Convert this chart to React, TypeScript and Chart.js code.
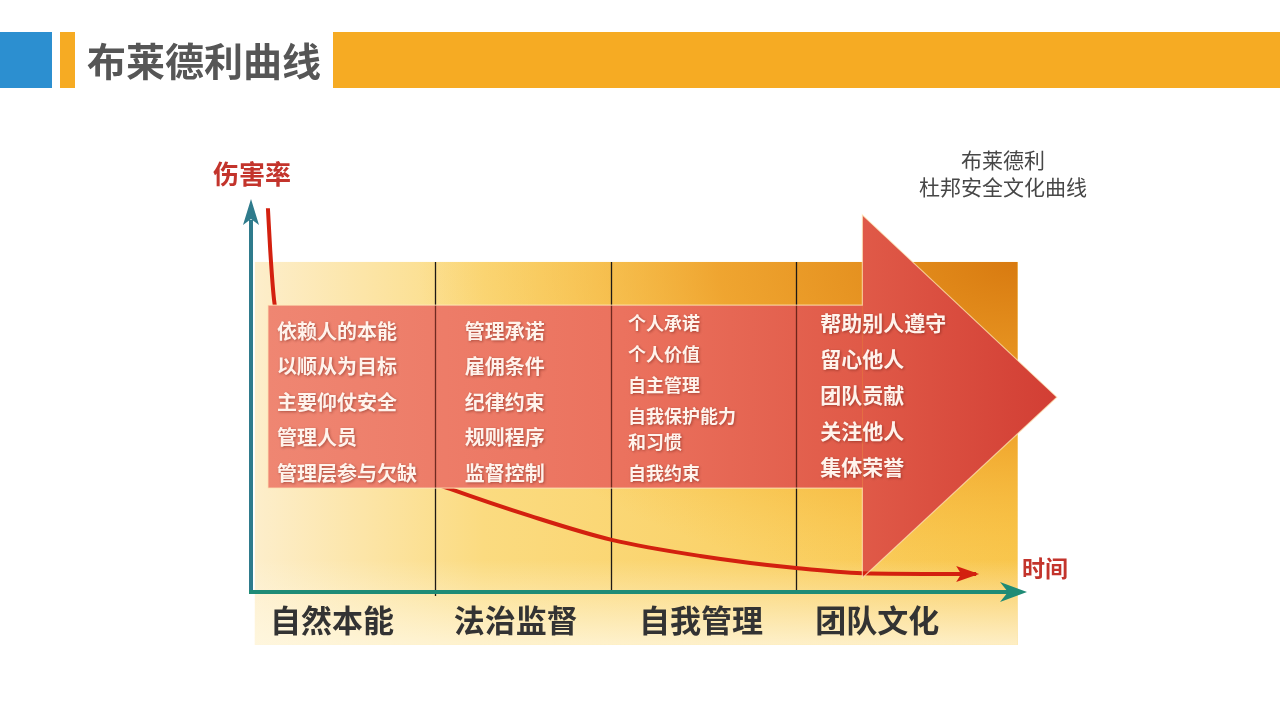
import React, { useEffect, useRef } from "react";
import { Chart, registerables } from "chart.js";

Chart.register(...registerables);

// ---------- data ----------
const TITLE = "布莱德利曲线";
const Y_LABEL = "伤害率";
const X_LABEL = "时间";
const CAPTION = ["布莱德利", "杜邦安全文化曲线"];
const STAGES = ["自然本能", "法治监督", "自我管理", "团队文化"];
const STAGE_START = [0, 23.9, 46.8, 70.9]; // time units where each stage begins
const STAGE_ITEMS_1 = ["依赖人的本能", "以顺从为目标", "主要仰仗安全", "管理人员", "管理层参与欠缺"];
const STAGE_ITEMS_2 = ["管理承诺", "雇佣条件", "纪律约束", "规则程序", "监督控制"];
const STAGE_ITEMS_3 = ["个人承诺", "个人价值", "自主管理", "自我保护能力\n和习惯", "自我约束"];
const STAGE_ITEMS_4 = ["帮助别人遵守", "留心他人", "团队贡献", "关注他人", "集体荣誉"];
const TIME = [2.2, 2.5, 3.0, 6.4, 12.9, 19.4, 25.9, 36.3, 46.9, 58.4, 70.9, 79.5, 94.3];
const INJURY_RATE = [97.9, 87.2, 74.5, 51.5, 38.8, 31.1, 26.3, 19.4, 13.3, 9.2, 6.1, 4.8, 4.6];

// ---------- layout (positions / styles) ----------
const FONT = '"Noto Sans CJK SC", "Noto Sans", sans-serif';
const PANEL = { left: 0.5, right: 99.7, top: 84.2, bottom: -13.5 };
const ARROW = {
  bandLeft: 2.2, bandRight: 79.5, bandTop: 73.2, bandBottom: 26.5,
  headTop: 96.2, headBottom: 3.6, tipX: 104.8, tipY: 49.7,
};
const COLUMNS = [
  { dx: 26, y0: 331, step: 35.5, size: 20 },
  { dx: 30, y0: 331, step: 35.5, size: 20 },
  { dx: 17, y0: 323, step: 31, size: 18 },
  { dx: 24, y0: 323, step: 36, size: 21 },
];
const LABEL_DX = [81, 81, 90, 81];

const decor = {
  id: "decor",
  beforeDatasetsDraw(chart: any) {
    const ctx: CanvasRenderingContext2D = chart.ctx;
    const xs = chart.scales.x;
    const ys = chart.scales.y;
    const px = (v: number) => xs.getPixelForValue(v);
    const py = (v: number) => ys.getPixelForValue(v);
    const area = chart.chartArea;
    ctx.save();

    // header
    ctx.fillStyle = "#2C8FD0";
    ctx.fillRect(0, 32, 52, 56);
    ctx.fillStyle = "#F6AB23";
    ctx.fillRect(60, 32, 15, 56);
    ctx.fillRect(333, 32, 947, 56);
    ctx.fillStyle = "#565656";
    ctx.font = `bold 39px ${FONT}`;
    ctx.textBaseline = "middle";
    ctx.textAlign = "left";
    ctx.fillText(TITLE, 87, 61);

    // background panel
    const L = px(PANEL.left), R = px(PANEL.right), T = py(PANEL.top), B = py(PANEL.bottom);
    const g = ctx.createLinearGradient(L, 0, R, 0);
    g.addColorStop(0, "#FDEECB");
    g.addColorStop(0.3, "#FBDB80");
    g.addColorStop(1, "#F9C850");
    ctx.fillStyle = g;
    ctx.fillRect(L, T, R - L, B - T);

    ctx.save();
    ctx.beginPath();
    ctx.rect(L, T, R - L, B - T);
    ctx.clip();
    ctx.translate(R, T);
    ctx.scale(600 / 330, 1);
    const rg = ctx.createRadialGradient(0, 0, 0, 0, 0, 330);
    rg.addColorStop(0, "rgba(216,122,16,1)");
    rg.addColorStop(0.5, "rgba(236,152,32,0.78)");
    rg.addColorStop(0.8, "rgba(245,178,48,0.35)");
    rg.addColorStop(1, "rgba(248,190,60,0)");
    ctx.fillStyle = rg;
    ctx.fillRect(-600, 0, 600, 400);
    ctx.restore();

    const g2 = ctx.createLinearGradient(0, B - 85, 0, B);
    g2.addColorStop(0, "rgba(255,250,232,0)");
    g2.addColorStop(1, "rgba(255,248,226,0.8)");
    ctx.fillStyle = g2;
    ctx.fillRect(L, B - 85, R - L, 85);

    // stage dividers
    ctx.strokeStyle = "#1E1A16";
    ctx.lineWidth = 1.3;
    for (let i = 1; i < STAGE_START.length; i++) {
      const x = Math.round(px(STAGE_START[i])) + 0.5;
      ctx.beginPath();
      ctx.moveTo(x, T);
      ctx.lineTo(x, area.bottom + (i === 1 ? 4 : 0));
      ctx.stroke();
    }

    // big arrow head
    ctx.fillStyle = arrowGradient(ctx, px);
    ctx.beginPath();
    ctx.moveTo(px(ARROW.bandRight), py(ARROW.headTop));
    ctx.lineTo(px(ARROW.tipX), py(ARROW.tipY));
    ctx.lineTo(px(ARROW.bandRight), py(ARROW.headBottom));
    ctx.closePath();
    ctx.fill();

    // axes
    const ax = area.left, ay = area.bottom;
    ctx.lineWidth = 4;
    ctx.strokeStyle = "#2F7B8C";
    ctx.beginPath();
    ctx.moveTo(ax, ay + 2);
    ctx.lineTo(ax, area.top + 20);
    ctx.stroke();
    ctx.fillStyle = "#2F7B8C";
    ctx.beginPath();
    ctx.moveTo(ax, area.top - 1);
    ctx.lineTo(ax + 8, area.top + 25);
    ctx.lineTo(ax, area.top + 19);
    ctx.lineTo(ax - 8, area.top + 25);
    ctx.closePath();
    ctx.fill();

    ctx.strokeStyle = "#1F8B76";
    ctx.beginPath();
    ctx.moveTo(ax - 2, ay);
    ctx.lineTo(area.right - 8, ay);
    ctx.stroke();
    ctx.fillStyle = "#1F8B76";
    ctx.beginPath();
    ctx.moveTo(area.right + 7, ay);
    ctx.lineTo(area.right - 20, ay - 10);
    ctx.lineTo(area.right - 12, ay);
    ctx.lineTo(area.right - 20, ay + 10);
    ctx.closePath();
    ctx.fill();
    ctx.restore();
  },
  afterDatasetsDraw(chart: any) {
    const ctx: CanvasRenderingContext2D = chart.ctx;
    const xs = chart.scales.x;
    const ys = chart.scales.y;
    const px = (v: number) => xs.getPixelForValue(v);
    const py = (v: number) => ys.getPixelForValue(v);
    const area = chart.chartArea;
    ctx.save();

    // arrow shaft band
    const bl = px(ARROW.bandLeft), br = px(ARROW.bandRight);
    const bt = py(ARROW.bandTop), bb = py(ARROW.bandBottom);
    ctx.fillStyle = arrowGradient(ctx, px);
    ctx.fillRect(bl, bt, br - bl, bb - bt);

    // dividers seen through band
    ctx.strokeStyle = "rgba(80,22,16,0.8)";
    ctx.lineWidth = 1.3;
    for (let i = 1; i < STAGE_START.length; i++) {
      const x = Math.round(px(STAGE_START[i])) + 0.5;
      ctx.beginPath();
      ctx.moveTo(x, bt);
      ctx.lineTo(x, bb);
      ctx.stroke();
    }

    // arrow outline
    ctx.strokeStyle = "rgba(255,236,190,0.7)";
    ctx.lineWidth = 1.2;
    ctx.beginPath();
    ctx.moveTo(bl, bt);
    ctx.lineTo(br, bt);
    ctx.lineTo(br, py(ARROW.headTop));
    ctx.lineTo(px(ARROW.tipX), py(ARROW.tipY));
    ctx.lineTo(br, py(ARROW.headBottom));
    ctx.lineTo(br, bb);
    ctx.lineTo(bl, bb);
    ctx.closePath();
    ctx.stroke();

    // curve arrow head
    const meta = chart.getDatasetMeta(0);
    const last = meta.data[meta.data.length - 1];
    const tx = last.x + 3, tyy = last.y;
    ctx.fillStyle = "#D3200F";
    ctx.beginPath();
    ctx.moveTo(tx, tyy);
    ctx.lineTo(tx - 23, tyy - 8);
    ctx.lineTo(tx - 18, tyy);
    ctx.lineTo(tx - 23, tyy + 8);
    ctx.closePath();
    ctx.fill();

    // band texts
    const cols = [STAGE_ITEMS_1, STAGE_ITEMS_2, STAGE_ITEMS_3, STAGE_ITEMS_4];
    ctx.textAlign = "left";
    ctx.textBaseline = "middle";
    ctx.shadowColor = "rgba(110,30,20,0.55)";
    ctx.shadowBlur = 3;
    ctx.shadowOffsetX = 1;
    ctx.shadowOffsetY = 1;
    ctx.fillStyle = "#FFF3EC";
    cols.forEach((items, ci) => {
      const c = COLUMNS[ci];
      const x0 = px(STAGE_START[ci]) + c.dx;
      ctx.font = `bold ${c.size}px ${FONT}`;
      let y = c.y0;
      items.forEach((item) => {
        const lines = item.split("\n");
        lines.forEach((ln, li) => {
          ctx.fillText(ln, x0, y + li * 26);
        });
        y += c.step + (lines.length - 1) * 26;
      });
    });
    ctx.shadowColor = "transparent";
    ctx.shadowBlur = 0;
    ctx.shadowOffsetX = 0;
    ctx.shadowOffsetY = 0;

    // axis labels
    ctx.fillStyle = "#C3342C";
    ctx.font = `bold 26px ${FONT}`;
    ctx.textAlign = "left";
    ctx.fillText(Y_LABEL, 213, 174);
    ctx.font = `bold 23px ${FONT}`;
    ctx.fillText(X_LABEL, 1022, 568);

    // caption
    ctx.fillStyle = "#474747";
    ctx.font = `21px ${FONT}`;
    ctx.textAlign = "center";
    ctx.fillText(CAPTION[0], 1003, 160);
    ctx.fillText(CAPTION[1], 1003, 187);

    // stage names
    ctx.fillStyle = "#333333";
    ctx.font = `bold 31px ${FONT}`;
    STAGES.forEach((s, i) => {
      ctx.fillText(s, px(STAGE_START[i]) + LABEL_DX[i], area.bottom + 28);
    });
    ctx.restore();
  },
};

function arrowGradient(ctx: CanvasRenderingContext2D, px: (v: number) => number) {
  const g = ctx.createLinearGradient(px(ARROW.bandLeft), 0, px(ARROW.tipX), 0);
  g.addColorStop(0, "rgb(239,134,114)");
  g.addColorStop(0.45, "rgb(235,114,94)");
  g.addColorStop(0.75, "rgb(224,90,72)");
  g.addColorStop(1, "rgb(210,62,52)");
  return g;
}

export default function App() {
  const ref = useRef<HTMLCanvasElement>(null);
  useEffect(() => {
    if (!ref.current) return;
    const chart = new Chart(ref.current, {
      type: "line",
      data: {
        datasets: [
          {
            label: Y_LABEL,
            data: TIME.map((t, i) => ({ x: t, y: INJURY_RATE[i] })),
            borderColor: "#D3200F",
            borderWidth: 4,
            pointRadius: 0,
            fill: false,
            cubicInterpolationMode: "monotone",
            clip: false,
          } as any,
        ],
      },
      options: {
        responsive: false,
        animation: false,
        devicePixelRatio: 1,
        layout: { padding: { left: 251, right: 260, top: 200, bottom: 128 } },
        scales: {
          x: { type: "linear", min: 0, max: 100, display: false },
          y: { type: "linear", min: 0, max: 100, display: false },
        },
        plugins: { legend: { display: false }, tooltip: { enabled: false }, title: { display: false } },
      },
      plugins: [decor],
    });
    return () => chart.destroy();
  }, []);
  return (
    <div style={{ position: "fixed", left: 0, top: 0, width: 1280, height: 720, background: "#fff" }}>
      <canvas ref={ref} width={1280} height={720} style={{ display: "block", width: 1280, height: 720 }} />
    </div>
  );
}
